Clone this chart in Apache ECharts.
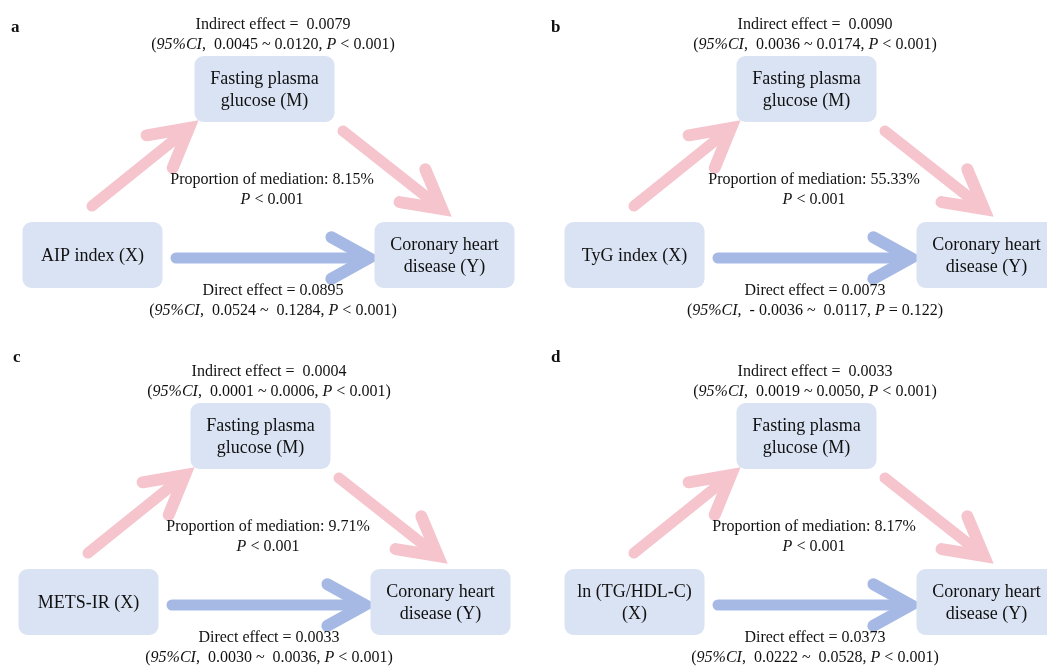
<!DOCTYPE html>
<html>
<head>
<meta charset="utf-8">
<script src="https://cdn.jsdelivr.net/npm/echarts@6/dist/echarts.min.js"></script>
<style>
  html, body { margin: 0; padding: 0; background: #fff; }
  #main { width: 1047px; height: 666px; }
</style>
</head>
<body>
<div id="main"></div>
<script>
// values
const panelLetters = ['a', 'b', 'c', 'd'];
const exposures = ['AIP index (X)', 'TyG index (X)', 'METS-IR (X)', 'ln (TG/HDL-C)\n(X)'];
const mediatorName = 'Fasting plasma\nglucose (M)';
const outcomeName = 'Coronary heart\ndisease (Y)';
const indirectEffect = ['0.0079', '0.0090', '0.0004', '0.0033'];
const indirectLow = ['0.0045', '0.0036', '0.0001', '0.0019'];
const indirectHigh = ['0.0120', '0.0174', '0.0006', '0.0050'];
const indirectP = ['< 0.001', '< 0.001', '< 0.001', '< 0.001'];
const mediationPct = ['8.15%', '55.33%', '9.71%', '8.17%'];
const mediationP = ['< 0.001', '< 0.001', '< 0.001', '< 0.001'];
const directEffect = ['0.0895', '0.0073', '0.0033', '0.0373'];
const directLow = ['0.0524', '- 0.0036', '0.0030', '0.0222'];
const directHigh = ['0.1284', '0.0117', '0.0036', '0.0528'];
const directP = ['< 0.001', '= 0.122', '< 0.001', '< 0.001'];

// diagram layout, in panel units (1 unit = 1 px)
const PANEL_W = 500, PANEL_H = 310;
const panelOrigin = [[0, 0], [542, 0], [-4, 347], [542, 347]];
const letterPos = [[11, 19], [551, 19], [13, 349], [551, 349]];
const nodeXY = [[264.5, 89], [92.5, 255], [444.5, 255]];   // M, X, Y
const arrowSeg = [[92, 206, 189, 128], [343, 131, 442, 209], [176, 258, 369, 258]];
const textXY = [[273, 35], [272, 189.5], [273, 301]];
const BOX_W = 140, BOX_H = 66;

const FONT = "'Liberation Serif', 'Times New Roman', serif";
const BOX_FILL = '#dae3f3';
const PINK = '#f5c4cd';
const BLUE = '#a6b9e5';
const INK = '#111';

const chart = echarts.init(document.getElementById('main'));

function boxRenderer(p) {
  const names = [mediatorName, exposures[p], outcomeName];
  return function (params, api) {
    const cx = api.value(0), cy = api.value(1);
    const tl = api.coord([cx - BOX_W / 2, cy - BOX_H / 2]);
    const br = api.coord([cx + BOX_W / 2, cy + BOX_H / 2]);
    return {
      type: 'group',
      children: [
        {
          type: 'rect',
          shape: { x: tl[0], y: tl[1], width: br[0] - tl[0], height: br[1] - tl[1], r: 9 },
          style: { fill: BOX_FILL }
        },
        {
          type: 'text',
          x: (tl[0] + br[0]) / 2,
          y: (tl[1] + br[1]) / 2 + 1,
          style: {
            text: names[params.dataIndex],
            fill: INK, fontFamily: FONT, fontSize: 18, lineHeight: 22,
            align: 'center', verticalAlign: 'middle'
          }
        }
      ]
    };
  };
}

function arrowRenderer(params, api) {
  const a = api.coord([api.value(0), api.value(1)]);
  const b = api.coord([api.value(2), api.value(3)]);
  const dx = b[0] - a[0], dy = b[1] - a[1];
  const len = Math.sqrt(dx * dx + dy * dy);
  const ux = dx / len, uy = dy / len;
  const armLen = 43, ang = 29 * Math.PI / 180;
  const c = Math.cos(ang), s = Math.sin(ang);
  const arm1 = [b[0] - armLen * (ux * c - uy * s), b[1] - armLen * (uy * c + ux * s)];
  const arm2 = [b[0] - armLen * (ux * c + uy * s), b[1] - armLen * (uy * c - ux * s)];
  const color = params.dataIndex === 2 ? BLUE : PINK;
  return {
    type: 'group',
    children: [
      {
        type: 'polyline',
        shape: { points: [a, [b[0] - ux * 12, b[1] - uy * 12]] },
        style: { stroke: color, lineWidth: 11, lineCap: 'round', fill: null }
      },
      {
        type: 'polyline',
        shape: { points: [arm1, b, arm2] },
        style: { stroke: color, lineWidth: 12, lineCap: 'round', lineJoin: 'miter', miterLimit: 10, fill: null }
      }
    ]
  };
}

function textRenderer(p) {
  const blocks = [
    'Indirect effect =  ' + indirectEffect[p] + '\n({i|95%CI},  ' + indirectLow[p] + ' ~ ' +
      indirectHigh[p] + ', {i|P} ' + indirectP[p] + ')',
    'Proportion of mediation: ' + mediationPct[p] + '\n{i|P} ' + mediationP[p],
    'Direct effect = ' + directEffect[p] + '\n({i|95%CI},  ' + directLow[p] + ' ~  ' +
      directHigh[p] + ', {i|P} ' + directP[p] + ')'
  ];
  return function (params, api) {
    const pt = api.coord([api.value(0), api.value(1)]);
    return {
      type: 'text',
      x: pt[0], y: pt[1],
      style: {
        text: blocks[params.dataIndex],
        fill: INK, fontFamily: FONT, fontSize: 16, lineHeight: 20,
        align: 'center', verticalAlign: 'middle',
        rich: { i: { fontFamily: FONT, fontSize: 16, fontStyle: 'italic', lineHeight: 20, fill: INK } }
      }
    };
  };
}

const grid = [], xAxis = [], yAxis = [], series = [], title = [];
panelLetters.forEach(function (letter, p) {
  // keep each grid inside the canvas; a negative origin is absorbed by the axis min
  const shiftX = Math.max(0, -panelOrigin[p][0]);
  grid.push({ left: panelOrigin[p][0] + shiftX, top: panelOrigin[p][1], width: PANEL_W, height: PANEL_H });
  xAxis.push({ gridIndex: p, type: 'value', min: shiftX, max: shiftX + PANEL_W, show: false });
  yAxis.push({ gridIndex: p, type: 'value', min: 0, max: PANEL_H, inverse: true, show: false });
  title.push({
    text: letter, left: letterPos[p][0], top: letterPos[p][1], padding: 0,
    textStyle: { fontFamily: FONT, fontWeight: 'bold', fontSize: 17, color: INK }
  });
  series.push({
    type: 'custom', xAxisIndex: p, yAxisIndex: p, clip: false, silent: true,
    renderItem: arrowRenderer, data: arrowSeg
  });
  series.push({
    type: 'custom', xAxisIndex: p, yAxisIndex: p, clip: false, silent: true,
    renderItem: boxRenderer(p), data: nodeXY
  });
  series.push({
    type: 'custom', xAxisIndex: p, yAxisIndex: p, clip: false, silent: true,
    renderItem: textRenderer(p), data: textXY
  });
});

chart.setOption({
  backgroundColor: '#fff',
  animation: false,
  title: title,
  grid: grid,
  xAxis: xAxis,
  yAxis: yAxis,
  series: series
});
</script>
</body>
</html>
